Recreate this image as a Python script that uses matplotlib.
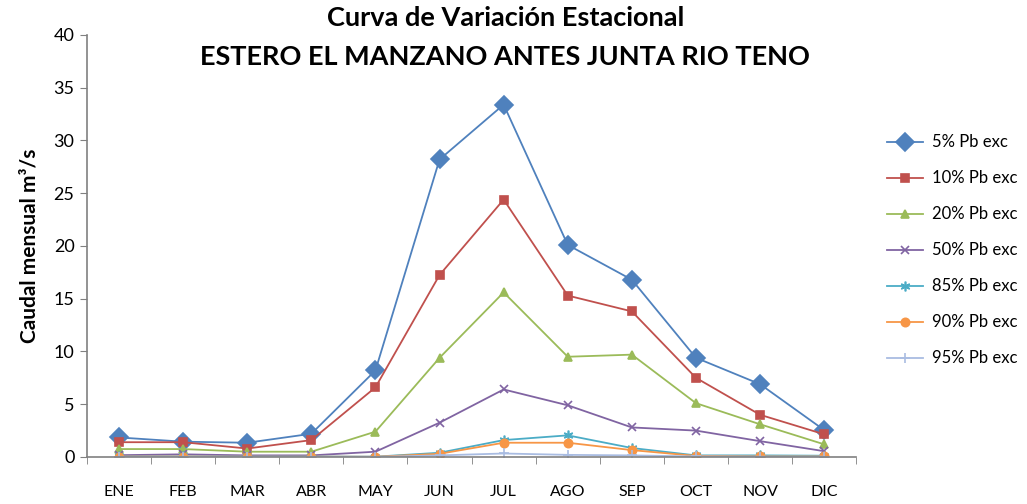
import numpy as np
import matplotlib
matplotlib.use("Agg")
import matplotlib.pyplot as plt
from matplotlib.ticker import MultipleLocator, FixedLocator, NullFormatter

plt.rcParams['font.family'] = ['Lato', 'DejaVu Sans']

meses = ["ENE", "FEB", "MAR", "ABR", "MAY", "JUN", "JUL", "AGO", "SEP", "OCT", "NOV", "DIC"]

# caudales mensuales (m3/s) por probabilidad de excedencia
q05 = [1.85, 1.45, 1.35, 2.2, 8.2, 28.2, 33.4, 20.1, 16.8, 9.4, 6.9, 2.55]
q10 = [1.4, 1.4, 0.8, 1.6, 6.6, 17.25, 24.4, 15.3, 13.8, 7.5, 4.0, 2.15]
q20 = [0.75, 0.75, 0.5, 0.5, 2.4, 9.4, 15.6, 9.5, 9.7, 5.1, 3.1, 1.2]
q50 = [0.17, 0.25, 0.15, 0.15, 0.5, 3.25, 6.4, 4.9, 2.8, 2.5, 1.5, 0.55]
q85 = [0.05, 0.05, 0.04, 0.04, 0.03, 0.4, 1.6, 2.05, 0.85, 0.15, 0.15, 0.12]
q90 = [0.04, 0.04, 0.03, 0.03, 0.02, 0.3, 1.35, 1.35, 0.65, 0.1, 0.05, 0.05]
q95 = [0.02, 0.02, 0.02, 0.02, 0.01, 0.15, 0.33, 0.2, 0.15, 0.05, 0.03, 0.03]

etiquetas = ["5% Pb exc", "10% Pb exc", "20% Pb exc", "50% Pb exc",
             "85% Pb exc", "90% Pb exc", "95% Pb exc"]

series = [q05, q10, q20, q50, q85, q90, q95]
colores = ["#4F81BD", "#C0504D", "#9BBB59", "#8064A2", "#4BACC6", "#F79646", "#A9BCE2"]
marcadores = ["D", "s", "^", "x", (6, 2, 0), "o", "+"]
tamanos = [9, 6, 6, 6, 7, 6, 7]

fig = plt.figure(figsize=(10.27, 5.04), dpi=100)
ax = fig.add_axes([0.0847, 0.0933, 0.749, 0.8373])

x = np.arange(len(meses))
for s, c, m, ms, lab in zip(series, colores, marcadores, tamanos, etiquetas):
    ax.plot(x, s, color=c, marker=m, markersize=ms, linewidth=1.3,
            markeredgecolor=c, markeredgewidth=1.2, label=lab)

ax.set_xlim(-0.5, 11.5)
ax.set_ylim(0, 40)
ax.yaxis.set_major_locator(MultipleLocator(5))
ax.set_xticks(x)
ax.set_xticklabels(meses, fontsize=11.5)
ax.xaxis.set_minor_locator(FixedLocator(np.arange(-0.5, 12, 1)))
ax.xaxis.set_minor_formatter(NullFormatter())
ax.tick_params(axis='x', which='major', length=0, pad=20)
ax.tick_params(axis='x', which='minor', length=5, color="#808080")
ax.tick_params(axis='y', length=5, color="#808080", labelsize=13, pad=4)

for lado in ["top", "right"]:
    ax.spines[lado].set_visible(False)
for lado in ["left", "bottom"]:
    ax.spines[lado].set_color("#808080")
    ax.spines[lado].set_linewidth(1.2)

ax.set_ylabel("Caudal mensual m³/s", fontsize=15, fontweight="bold", labelpad=10)

fig.text(0.492, 0.964, "Curva de Variación Estacional", ha="center", va="center",
         fontsize=19.5, fontweight="bold")
fig.text(0.492, 0.887, "ESTERO EL MANZANO ANTES JUNTA RIO TENO", ha="center", va="center",
         fontsize=19.5, fontweight="bold")

ax.legend(loc="upper left", bbox_to_anchor=(1.02, 0.80), frameon=False,
          fontsize=12, labelspacing=1.2, handlelength=2.2, handletextpad=0.5)

fig.savefig("out.png", dpi=100)
